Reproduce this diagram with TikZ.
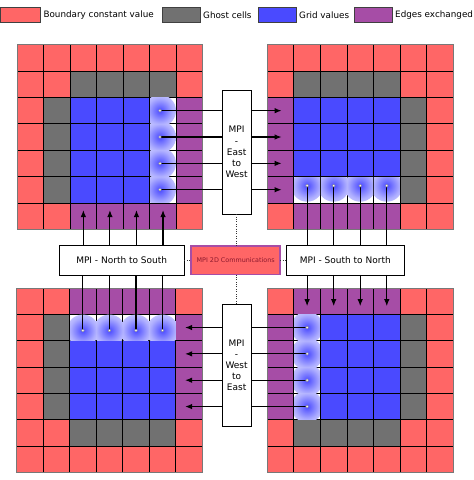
\documentclass[tikz,border=0pt]{standalone}
\usepackage{fontspec}
\setmainfont{DejaVu Sans}
\usetikzlibrary{arrows.meta,calc}
\definecolor{bnd}{RGB}{255,102,102}
\definecolor{ghost}{RGB}{113,113,113}
\definecolor{gridv}{RGB}{74,74,255}
\definecolor{edgec}{RGB}{166,77,166}
\definecolor{ctext}{RGB}{140,25,45}
\definecolor{bordgray}{RGB}{120,120,120}
\definecolor{glowa}{RGB}{105,105,255}
\definecolor{glowb}{RGB}{175,175,255}
\definecolor{glowc}{RGB}{222,222,255}
\pgfdeclareradialshading{glowsh}{\pgfpoint{0bp}{0bp}}{color(0bp)=(gridv); color(6bp)=(glowa); color(20bp)=(glowb); color(35bp)=(glowc); color(50bp)=(white)}
\def\cw{26.55}
\def\ch{26.35}
\tikzset{
  cell/.style={draw=black, line width=0.8pt, minimum width=26.55pt, minimum height=26.35pt, inner sep=0pt, outer sep=0pt},
  cR/.style={fill=bnd}, cG/.style={fill=ghost}, cB/.style={fill=gridv},
  cE/.style={fill=edgec}, cW/.style={fill=white},
  conn/.style={line width=1.1pt, black},
  arr/.style={conn, -{Latex[length=7pt,width=5.5pt]}},
  mpibox/.style={draw=black, line width=0.8pt, fill=white, inner sep=1pt, outer sep=0pt, align=center, font=\fontsize{9}{11.2}\selectfont},
  dotline/.style={draw=black!80, line width=0.6pt, dash pattern=on 0.8pt off 1.6pt},
  swatch/.style={draw=black!75, line width=0.8pt, minimum width=38pt, minimum height=15.7pt, inner sep=0pt, outer sep=0pt},
  legtext/.style={anchor=west, inner sep=0pt, font=\fontsize{8.8}{10}\selectfont},
  glowdot/.style={draw=black!45, fill=white, line width=0.4pt}
}
\newcommand\mkgrid[4]{%
  \foreach \rowspec [count=\r from 0] in {#4} {
    \foreach \cc [count=\c from 0] in \rowspec {
      \node[cell, c\cc] (#1-\r-\c) at ({#2+(\c+0.5)*\cw},{#3+(\r+0.5)*\ch}) {};
    }
  }
}
\newcommand\glow[3]{%
  \begin{scope}
    \clip ([shift={(0.45pt,0.45pt)}]#1.south west) rectangle ([shift={(-0.45pt,-0.45pt)}]#1.north east);
    \shade[shading=glowsh] ([shift={(#2,#3)}]#1.center) circle (16);
  \end{scope}
}
\begin{document}
\begin{tikzpicture}[x=1pt,y=-1pt]
\useasboundingbox (0,0) rectangle (474,480);
% legend
\node[swatch, fill=bnd, minimum width=40pt] (sw1) at (20.5,14.8) {};
\node[legtext] (lt1) at (43.3,15) {Boundary constant value};
\node[swatch, fill=ghost] (sw2) at (181,14.8) {};
\node[legtext] (lt2) at (203,15) {Ghost cells};
\node[swatch, fill=gridv] (sw3) at (277,14.8) {};
\node[legtext] (lt3) at (299,15) {Grid values};
\node[swatch, fill=edgec] (sw4) at (373,14.8) {};
\node[legtext] (lt4) at (395,15) {Edges exchanged};
% grids
\mkgrid{tl}{17}{44.8}{{R,R,R,R,R,R,R},{R,R,G,G,G,G,R},{R,G,B,B,B,W,E},{R,G,B,B,B,W,E},{R,G,B,B,B,W,E},{R,G,B,B,B,W,E},{R,R,E,E,E,E,R}}
\mkgrid{tr}{267.3}{44.8}{{R,R,R,R,R,R,R},{R,G,G,G,G,R,R},{E,B,B,B,B,G,R},{E,B,B,B,B,G,R},{E,B,B,B,B,G,R},{E,W,W,W,W,G,R},{R,E,E,E,E,R,R}}
\mkgrid{bl}{16.5}{288}{{R,R,E,E,E,E,R},{R,G,W,W,W,W,E},{R,G,B,B,B,B,E},{R,G,B,B,B,B,E},{R,G,B,B,B,B,E},{R,R,G,G,G,G,R},{R,R,R,R,R,R,R}}
\mkgrid{br}{267.3}{288}{{R,E,E,E,E,R,R},{E,W,B,B,B,G,R},{E,W,B,B,B,G,R},{E,W,B,B,B,G,R},{E,W,B,B,B,G,R},{R,G,G,G,G,R,R},{R,R,R,R,R,R,R}}
\foreach \g in {tl,tr,bl,br} {
  \draw[bordgray, line width=0.9pt] (\g-0-0.north west) rectangle (\g-6-6.south east);
}
% glows
\foreach \r in {2,...,5} { \glow{tl-\r-5}{-3}{0} }
\foreach \c in {1,...,4} { \glow{tr-5-\c}{0}{-4} }
\foreach \c in {2,...,5} { \glow{bl-1-\c}{0}{3} }
\foreach \r in {1,...,4} { \glow{br-\r-1}{0}{0} }
% MPI boxes
\node[mpibox, minimum width=28.7pt, minimum height=124.3pt] (ew) at (236.6,152.1) {MPI\\-\\East\\to\\West};
\node[mpibox, minimum width=28.7pt, minimum height=122.7pt] (we) at (236.6,365.3) {MPI\\-\\West\\to\\East};
\node[mpibox, minimum width=125.3pt, minimum height=29.3pt] (ns) at (121.7,260.3) {MPI - North to South};
\node[mpibox, minimum width=117.3pt, minimum height=29.3pt] (sn) at (345.3,260.3) {MPI - South to North};
\node[draw=edgec, line width=1.5pt, fill=bnd, minimum width=89pt, minimum height=28.5pt, inner sep=0pt, outer sep=0pt, text=ctext, font=\fontsize{6.4}{7}\selectfont] (cc) at (235.7,260.3) {MPI 2D Communications};
% dotted links
\draw[dotline] (ew.south) -- (ew.south |- cc.north);
\draw[dotline] (we.north) -- (we.north |- cc.south);
\draw[dotline] (ns.east) -- (cc.west);
\draw[dotline] (cc.east) -- (sn.west);
% East to West
\foreach \r in {2,...,5} {
  \draw[conn] ([shift={(-3,0)}]tl-\r-5.center) -- (ew.west |- tl-\r-5.center);
  \draw[arr] (ew.east |- tr-\r-0.center) -- ([shift={(1,0)}]tr-\r-0.center);
}
% South to North (TR -> BR)
\foreach \c in {1,...,4} {
  \draw[conn] ([shift={(0,-4)}]tr-5-\c.center) -- (sn.north -| tr-5-\c.center);
  \draw[arr] (sn.south -| br-0-\c.center) -- ([shift={(0,5)}]br-0-\c.center);
}
% North to South (BL -> TL)
\foreach \c in {2,...,5} {
  \draw[conn] ([shift={(0,3)}]bl-1-\c.center) -- (ns.south -| bl-1-\c.center);
  \draw[arr] (ns.north -| tl-6-\c.center) -- ([shift={(0,-6)}]tl-6-\c.center);
}
% West to East (BR -> BL)
\foreach \r in {1,...,4} {
  \draw[conn] (br-\r-1.center) -- (we.east |- br-\r-1.center);
  \draw[arr] (we.west |- bl-\r-6.center) -- ([shift={(-4,0)}]bl-\r-6.center);
}
% dots on top of lines
\foreach \r in {2,...,5} { \draw[glowdot] ([shift={(-3,0)}]tl-\r-5.center) circle (1.4); }
\foreach \c in {1,...,4} { \draw[glowdot] ([shift={(0,-4)}]tr-5-\c.center) circle (1.4); }
\foreach \c in {2,...,5} { \draw[glowdot] ([shift={(0,3)}]bl-1-\c.center) circle (1.4); }
\foreach \r in {1,...,4} { \draw[glowdot] (br-\r-1.center) circle (1.4); }
\end{tikzpicture}
\end{document}
